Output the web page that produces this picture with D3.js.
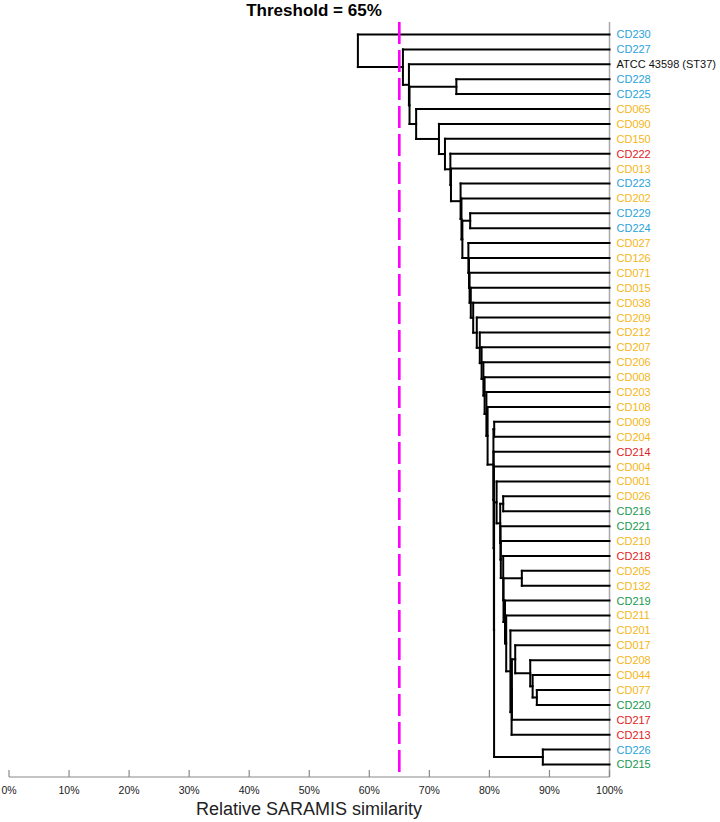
<!DOCTYPE html>
<html>
<head>
<meta charset="utf-8">
<script src="https://cdn.jsdelivr.net/npm/d3@7"></script>
<style>
  html, body { margin: 0; padding: 0; background: #fff; }
  svg { display: block; font-family: "Liberation Sans", Arial, sans-serif; }
</style>
</head>
<body>
<svg id="chart" width="720" height="822"></svg>
<script>
// ---------- DATA ----------
const leaves = ["CD230","CD227","ATCC 43598 (ST37)","CD228","CD225","CD065","CD090","CD150","CD222","CD013",
  "CD223","CD202","CD229","CD224","CD027","CD126","CD071","CD015","CD038","CD209",
  "CD212","CD207","CD206","CD008","CD203","CD108","CD009","CD204","CD214","CD004",
  "CD001","CD026","CD216","CD221","CD210","CD218","CD205","CD132","CD219","CD211",
  "CD201","CD017","CD208","CD044","CD077","CD220","CD217","CD213","CD226","CD215"];

const leafGroups = ["B","B","K","B","B","O","O","O","R","O",
  "B","O","B","B","O","O","O","O","O","O",
  "O","O","O","O","O","O","O","O","R","O",
  "O","O","G","G","O","R","O","O","G","O",
  "O","O","O","O","O","G","R","R","B","G"];

const groupColors = { B: "#2aa3d9", O: "#f4b617", R: "#e01b24", G: "#17994f", K: "#111111" };

// merges: [node id, first child, second child, similarity %]
const merges = [
  ["root","CD230","n1",58.1],
  ["n1","CD227","n2",65.6],
  ["n2","ATCC 43598 (ST37)","n2b",66.6],
  ["n2b","c228","n3",66.7],
  ["c228","CD228","CD225",74.5],
  ["n3","CD065","n4",67.8],
  ["n4","CD090","n5",71.6],
  ["n5","CD150","n6",72.6],
  ["n6","CD222","n7",73.5],
  ["n7","CD013","n8",73.6],
  ["n8","CD223","n9",75.2],
  ["n9","CD202","n10",75.35],
  ["n10","c229","n11",75.5],
  ["c229","CD229","CD224",76.8],
  ["n11","CD027","n12",76.5],
  ["n12","CD126","n13",76.6],
  ["n13","CD071","n14",76.7],
  ["n14","CD015","n15",76.9],
  ["n15","CD038","n16",77.3],
  ["n16","CD209","n17",77.9],
  ["n17","CD212","n18",78.4],
  ["n18","CD207","n19",78.7],
  ["n19","CD206","n20",79.0],
  ["n20","CD008","n21",79.2],
  ["n21","CD203","n22",79.5],
  ["n22","CD108","x1",79.7],
  ["x1","c009","x2",80.67],
  ["c009","CD009","CD204",80.8],
  ["x2","CD214","x3",80.7],
  ["x3","CD004","x4",80.75],
  ["x4","r0","c226",80.78],
  ["c226","CD226","CD215",88.9],
  ["r0","CD001","r1",81.2],
  ["r1","c026","r2",81.8],
  ["c026","CD026","CD216",82.3],
  ["r2","CD221","r3",81.85],
  ["r3","CD210","r4",81.9],
  ["r4","CD218","r5",82.3],
  ["r5","c205","r6",82.35],
  ["c205","CD205","CD132",85.4],
  ["r6","CD219","r7",82.6],
  ["r7","CD211","r8",82.8],
  ["r8","CD201","r9",83.5],
  ["r9","r9b","CD213",83.7],
  ["r9b","r10","CD217",83.75],
  ["r10","CD017","r11",84.3],
  ["r11","CD208","r12",86.8],
  ["r12","CD044","c077",87.2],
  ["c077","CD077","CD220",87.9]
];

const xTicks = [0,10,20,30,40,50,60,70,80,90,100];
const threshold = 65;
const titleText = "Threshold = 65%";
const axisTitle = "Relative SARAMIS similarity";

// ---------- SCALES ----------
const svg = d3.select("#chart");
const x = d3.scaleLinear().domain([0, 100]).range([9, 609.5]);
const y = d3.scalePoint().domain(leaves).range([34.5, 764.5]);
const axisY = 777;
const topY = 22;

// ---------- TREE ----------
const nodeMap = new Map(merges.map(m => [m[0], { id: m[0], children: [m[1], m[2]], h: m[3] }]));
const yCache = new Map();
function nodeY(id) {
  if (!nodeMap.has(id)) return y(id);
  if (yCache.has(id)) return yCache.get(id);
  const n = nodeMap.get(id);
  const v = d3.mean(n.children, c => nodeY(c));
  yCache.set(id, v);
  return v;
}
function nodeX(id) {
  return nodeMap.has(id) ? x(nodeMap.get(id).h) : x(100);
}

const segs = [];
merges.forEach(m => {
  const n = nodeMap.get(m[0]);
  const cy = n.children.map(nodeY);
  segs.push({ x1: x(n.h), x2: x(n.h), y1: d3.min(cy), y2: d3.max(cy) });
  n.children.forEach(c => {
    segs.push({ x1: x(n.h), x2: nodeX(c), y1: nodeY(c), y2: nodeY(c) });
  });
});

// right border line
svg.append("line")
  .attr("x1", x(100)).attr("x2", x(100))
  .attr("y1", topY).attr("y2", axisY)
  .attr("stroke", "#a9a9a9").attr("stroke-width", 1.5);

// x axis
const axisG = svg.append("g").attr("transform", `translate(0,${axisY})`);
axisG.append("line")
  .attr("x1", x(0)).attr("x2", x(100)).attr("y1", 0).attr("y2", 0)
  .attr("stroke", "#8a8a8a").attr("stroke-width", 1.2);
axisG.selectAll("line.tick").data(xTicks).join("line")
  .attr("class", "tick")
  .attr("x1", d => x(d)).attr("x2", d => x(d))
  .attr("y1", 0).attr("y2", -7)
  .attr("stroke", "#8a8a8a").attr("stroke-width", 1.2);
axisG.selectAll("text.tl").data(xTicks).join("text")
  .attr("class", "tl")
  .attr("x", d => x(d)).attr("y", 17)
  .attr("text-anchor", "middle")
  .attr("font-size", "10.5px")
  .attr("fill", "#1a1a1a")
  .text(d => d + "%");

// tree
svg.append("g").selectAll("line").data(segs).join("line")
  .attr("x1", d => d.x1).attr("x2", d => d.x2)
  .attr("y1", d => d.y1).attr("y2", d => d.y2)
  .attr("stroke", "#000").attr("stroke-width", 2)
  .attr("stroke-linecap", "square");

// threshold
svg.append("line")
  .attr("x1", x(threshold)).attr("x2", x(threshold))
  .attr("y1", topY).attr("y2", axisY)
  .attr("stroke", "#ff00ff").attr("stroke-width", 2.6)
  .attr("stroke-dasharray", "22,6");

// leaf labels
svg.append("g").selectAll("text").data(leaves).join("text")
  .attr("x", x(100) + 7)
  .attr("y", d => y(d))
  .attr("dy", "0.36em")
  .attr("font-size", "11px")
  .attr("fill", (d, i) => groupColors[leafGroups[i]])
  .text(d => d);

// titles
svg.append("text")
  .attr("x", 314).attr("y", 16)
  .attr("text-anchor", "middle")
  .attr("font-size", "17px").attr("font-weight", "bold")
  .attr("fill", "#000")
  .text(titleText);

svg.append("text")
  .attr("x", 309).attr("y", 815)
  .attr("text-anchor", "middle")
  .attr("font-size", "18px")
  .attr("fill", "#222")
  .text(axisTitle);
</script>
</body>
</html>
